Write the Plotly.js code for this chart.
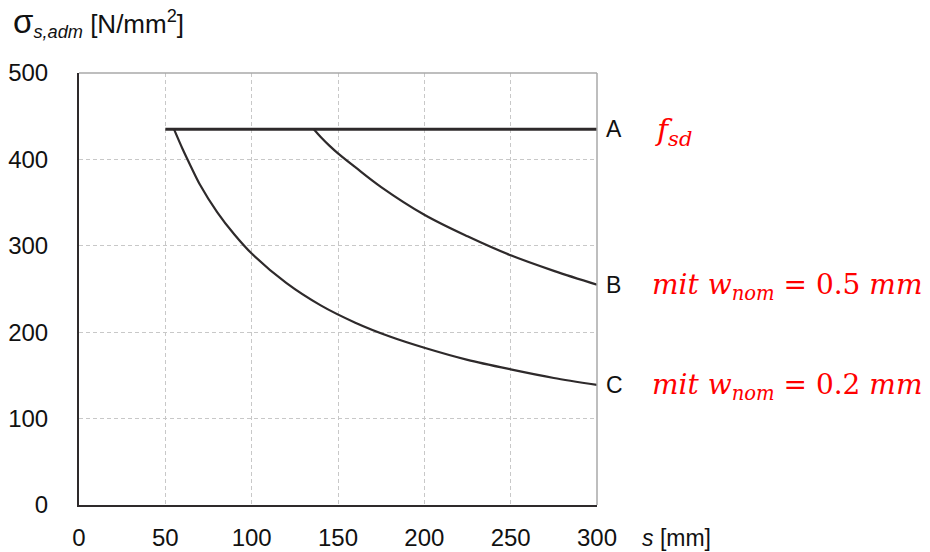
<!DOCTYPE html>
<html>
<head>
<meta charset="utf-8">
<script src="https://cdn.plot.ly/plotly-3.0.1.min.js"></script>
<style>html,body{margin:0;padding:0;background:#fff;}#chart{width:930px;height:552px;}</style>
</head>
<body>
<div id="chart"></div>
<script>
// Data
const sA = [50, 300];
const sigA = [435, 435];

const sB = [136, 140, 145, 150, 160, 175, 200, 225, 250, 275, 300];
const sigB = [435, 426, 416, 407, 391, 368, 336, 311, 289, 271, 255];

const sC = [55, 60, 65, 70, 80, 90, 100, 120, 140, 160, 180, 200, 225, 250, 275, 300];
const sigC = [435, 412, 391, 371, 339, 313, 291, 257, 231, 211, 195, 182, 168, 157, 147, 139];

const xTicks = [0, 50, 100, 150, 200, 250, 300];
const yTicks = [0, 100, 200, 300, 400, 500];

const curveLabels = ['A', 'B', 'C'];
const curveEndY = [sigA[sigA.length - 1], sigB[sigB.length - 1], sigC[sigC.length - 1]];
const redLabels = [
  '<i>f</i><sub><i>sd</i></sub>',
  '<i>mit w</i><sub><i>nom</i></sub> = 0.5 <i>mm</i>',
  '<i>mit w</i><sub><i>nom</i></sub> = 0.2 <i>mm</i>'
];

const lineCol = '#2e2a2b';
const traces = [
  {x: sA, y: sigA, mode: 'lines', line: {color: lineCol, width: 3}},
  {x: sB, y: sigB, mode: 'lines', line: {color: lineCol, width: 2.2, shape: 'spline', smoothing: 1}},
  {x: sC, y: sigC, mode: 'lines', line: {color: lineCol, width: 2.2, shape: 'spline', smoothing: 0.8}}
];

const annotations = [];
curveLabels.forEach((t, i) => {
  annotations.push({x: 300, y: curveEndY[i], xref: 'x', yref: 'y', text: t, showarrow: false,
    xanchor: 'left', yanchor: 'middle', xshift: 7,
    font: {family: 'Liberation Sans, Arial', size: 23, color: '#111'}});
  annotations.push({x: 300, y: curveEndY[i], xref: 'x', yref: 'y', text: redLabels[i], showarrow: false,
    xanchor: 'left', yanchor: 'middle', xshift: i === 0 ? 56 : 53, yshift: -2,
    font: {family: 'DejaVu Serif, serif', size: i === 0 ? 30 : 28, color: '#ff0000'}});
});

const layout = {
  width: 930, height: 552,
  margin: {l: 79, r: 333, t: 73, b: 47, pad: 0},
  paper_bgcolor: '#fff', plot_bgcolor: '#fff',
  showlegend: false,
  font: {family: 'Liberation Sans, Arial, sans-serif', size: 24, color: '#111'},
  xaxis: {range: [0, 300], tickvals: xTicks, ticktext: xTicks.map(String), showgrid: true,
    gridcolor: '#c8c8c8', griddash: '4px,3px', gridwidth: 1, zeroline: false,
    showline: true, linecolor: lineCol, linewidth: 2, ticks: '', ticklabelstandoff: 10,
    tickfont: {size: 24, color: '#111'}},
  yaxis: {range: [0, 500], tickvals: yTicks, ticktext: yTicks.map(String), showgrid: true,
    gridcolor: '#c8c8c8', griddash: '4px,3px', gridwidth: 1, zeroline: false,
    showline: true, linecolor: lineCol, linewidth: 2, ticks: '', ticklabelstandoff: 24,
    tickfont: {size: 24, color: '#111'}},
  shapes: [
    {type: 'line', xref: 'paper', yref: 'paper', x0: 0, x1: 1, y0: 1, y1: 1, line: {color: '#a8a8a8', width: 1.5}},
    {type: 'line', xref: 'paper', yref: 'paper', x0: 1, x1: 1, y0: 0, y1: 1, line: {color: '#a8a8a8', width: 1.5}}
  ],
  annotations: annotations
};
layout.annotations.push({
  xref: 'paper', yref: 'paper', x: 0, y: 1, xanchor: 'left', yanchor: 'middle',
  xshift: -68, yshift: 51,
  text: '<span style="font-size:33px">σ</span><sub><i>s,adm</i></sub> [N/mm<sup>2</sup>]',
  showarrow: false, font: {family: 'Liberation Sans, Arial', size: 26, color: '#111'}
});
layout.annotations.push({
  xref: 'x', yref: 'paper', x: 300, y: 0, xanchor: 'left', yanchor: 'top', yshift: -18, xshift: 43,
  text: '<i>s</i> [mm]', showarrow: false, font: {family: 'Liberation Sans, Arial', size: 23, color: '#111'}
});

Plotly.newPlot('chart', traces, layout, {staticPlot: true});
</script>
</body>
</html>
